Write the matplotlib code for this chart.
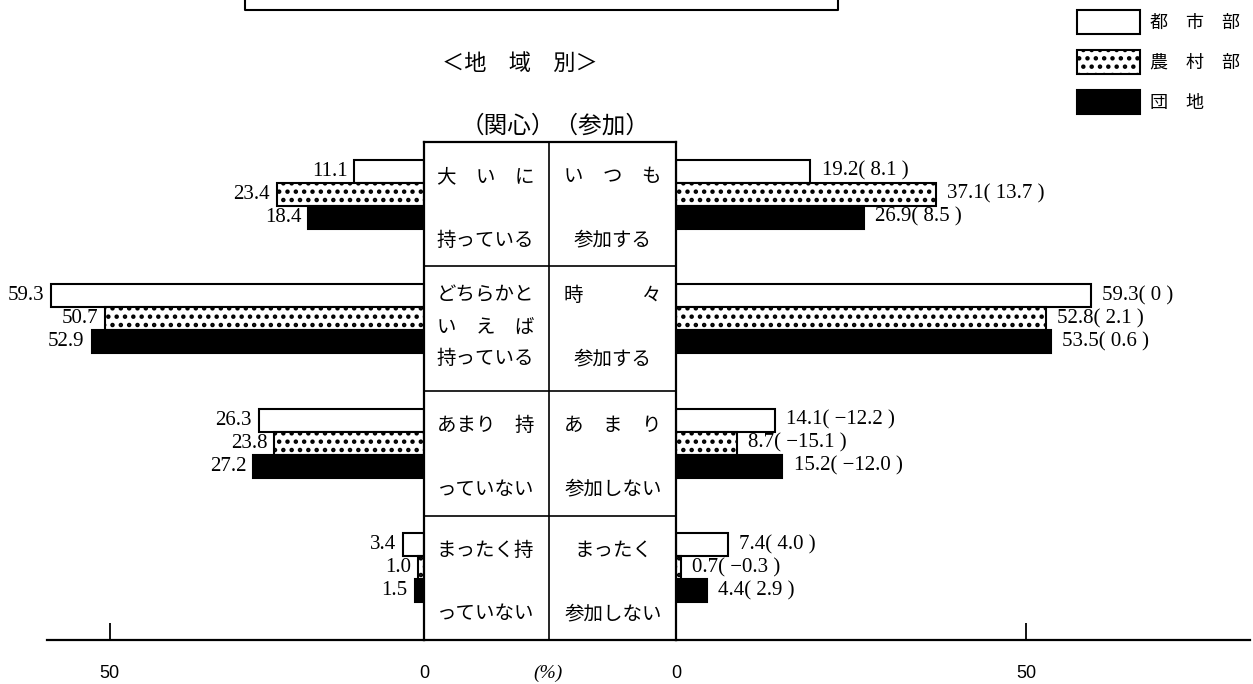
import matplotlib
matplotlib.use('Agg')
import matplotlib.pyplot as plt
from matplotlib.lines import Line2D
from matplotlib.patches import Patch

plt.rcParams['font.family'] = ['Noto Sans CJK JP', 'DejaVu Sans']
plt.rcParams['hatch.linewidth'] = 2.0

# ---- data ----
series = ['都　市　部', '農　村　部', '団　地']
interest_urban = [11.1, 59.3, 26.3, 3.4]
interest_rural = [23.4, 50.7, 23.8, 1.0]
interest_danchi = [18.4, 52.9, 27.2, 1.5]
particip_urban = [19.2, 59.3, 14.1, 7.4]
particip_rural = [37.1, 52.8, 8.7, 0.7]
particip_danchi = [26.9, 53.5, 15.2, 4.4]
diff_urban = [8.1, 0.0, -12.2, 4.0]
diff_rural = [13.7, 2.1, -15.1, -0.3]
diff_danchi = [8.5, 0.6, -12.0, 2.9]

# category text shown in the centre box (line breaks as printed)
interest_lines = [['大　い　に', '持っている'],
                  ['どちらかと', 'い　え　ば', '持っている'],
                  ['あまり　持', 'っていない'],
                  ['まったく持', 'っていない']]
particip_lines = [['い　つ　も', '参加する'],
                  ['時　　　々', '', '参加する'],
                  ['あ　ま　り', '参加しない'],
                  ['まったく', '参加しない']]

NUM_FONT = ['Liberation Serif', 'Noto Sans CJK JP']
STYLES = [dict(facecolor='white', edgecolor='black', linewidth=1.5),
          dict(facecolor='white', edgecolor='black', linewidth=1.5, hatch='..'),
          dict(facecolor='black', edgecolor='black', linewidth=1.5)]

W, H = 1253, 684
fig = plt.figure(figsize=(W / 100, H / 100), dpi=100)


def rect(x0, x1, y0, y1):
    return [x0 / W, 1 - y1 / H, (x1 - x0) / W, (y1 - y0) / H]


def fmt_diff(d):
    if d == 0:
        return '0'
    return f'{d:.1f}'.replace('-', '−')


ax_l = fig.add_axes(rect(47, 424, 142, 640))
ax_r = fig.add_axes(rect(676, 1250, 142, 640))
ax_box = fig.add_axes(rect(424, 676, 142, 640))

bar_h = 0.185
for ax, lim in ((ax_l, (60, 0)), (ax_r, (0, 82))):
    ax.set_xlim(*lim)
    ax.set_ylim(4, 0)
    for s in ('top', 'left', 'right'):
        ax.spines[s].set_visible(False)
    ax.spines['bottom'].set_linewidth(1.6)
    ax.set_yticks([])
    ax.set_xticks([0, 50])
    ax.set_xticklabels(['0', '50'], fontsize=13, family='Liberation Sans')
    ax.tick_params(axis='x', direction='in', length=12, width=1.3, pad=18)
    ax.patch.set_visible(False)

# left side: interest
left_data = [interest_urban, interest_rural, interest_danchi]
for k, vals in enumerate(left_data):
    ys = [i + 0.42 + (k - 1) * bar_h for i in range(4)]
    ax_l.barh(ys, vals, height=bar_h, **STYLES[k])
    for y, v in zip(ys, vals):
        ax_l.annotate(f'{v:.1f}', (v, y), xytext=(-5, 0), textcoords='offset points',
                      ha='right', va='center', fontsize=15, family=NUM_FONT)

# right side: participation
right_data = [particip_urban, particip_rural, particip_danchi]
diffs = [diff_urban, diff_rural, diff_danchi]
for k, vals in enumerate(right_data):
    ys = [i + 0.42 + (k - 1) * bar_h for i in range(4)]
    ax_r.barh(ys, vals, height=bar_h, **STYLES[k])
    for y, v, d in zip(ys, vals, diffs[k]):
        ax_r.annotate(f'{v:.1f}( {fmt_diff(d)} )', (v, y), xytext=(8, 0),
                      textcoords='offset points', ha='left', va='center',
                      fontsize=15, family=NUM_FONT)

# centre box with category labels
ax_box.set_xlim(0, 1)
ax_box.set_ylim(4, 0)
ax_box.set_xticks([])
ax_box.set_yticks([])
for s in ax_box.spines.values():
    s.set_linewidth(1.6)
ax_box.axvline(0.496, color='black', lw=1.2)
for i in range(1, 4):
    ax_box.axhline(i, color='black', lw=1.2)
for i in range(4):
    lines_l = interest_lines[i]
    lines_r = particip_lines[i]
    pos = [0.28, 0.79] if len(lines_l) == 2 else [0.23, 0.49, 0.74]
    for t, p in zip(lines_l, pos):
        ax_box.text(0.05, i + p, t, ha='left', va='center', fontsize=14)
    for t, p in zip(lines_r, pos):
        ax_box.text(0.75, i + p, t, ha='center', va='center', fontsize=14)

# headings
fig.text(520 / W, 1 - 63 / H, '＜地　域　別＞', ha='center', va='center', fontsize=16)
fig.text(555 / W, 1 - 126 / H, '（関心）（参加）', ha='center', va='center', fontsize=17)
fig.text(548 / W, 1 - 673 / H, '(%)', ha='center', va='center', fontsize=14,
         family=NUM_FONT, style='italic')

# bottom of the title frame cut at the top edge
fig.add_artist(Line2D([245 / W, 245 / W, 838 / W, 838 / W],
                      [1.0, 1 - 10 / H, 1 - 10 / H, 1.0],
                      color='black', lw=1.5, transform=fig.transFigure))

# legend
handles = [Patch(**STYLES[k]) for k in range(3)]
fig.legend(handles, series, loc='upper left', bbox_to_anchor=(1077 / W, 1 - 10 / H),
           frameon=False, fontsize=13, handlelength=3.5, handleheight=1.65,
           labelspacing=0.9, handletextpad=0.55, borderpad=0, borderaxespad=0)

fig.savefig('out.png', dpi=100)
